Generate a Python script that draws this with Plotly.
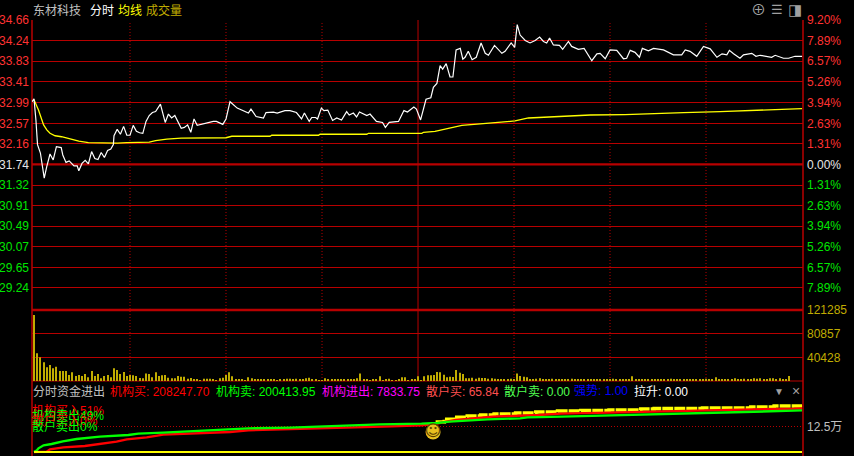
import plotly.graph_objects as go

PREV_CLOSE = 31.74
price_min = [-0.6,0,0.6,1.1,2,2.5,3.2,4,5,6,7,8.5,9,10,11,12.5,13.5,14,15,16,17,18,19,20,21,22,23,24,24.8,25,26,27,28,29,30,31,32,33,34,35,36,37,38,39.5,40.5,41,42,43,44,46,47,48,49,50,51,53,55,56,57,59,60,61.25,63.5,67,67.8,69.4,71.7,72.5,74.8,76,78.4,80,82,83.6,84.5,86,86.8,88,88.6,89.8,90.6,91.8,93.3,94.6,96.1,97.7,98.5,99.8,100.8,101.7,104,105,107,108.9,109.8,111,113.9,115.6,116.7,118.7,119.5,120.8,122.5,124,124.8,125.9,126.9,127.7,128.8,130,130.9,131.9,133.2,134,134.7,135.7,136.9,138.2,139.7,141,142,143.9,146.2,147.2,149.1,150.2,151,151.9,153.5,155,156.6,158,159.2,160.2,161.1,162.3,164.2,165.2,167,168,170.1,171.9,174.3,175.9,176.9,178.5,180,182.1,184.2,185.2,186.3,187.8,189.2,190.1,192,193.6,196.7,199.8,202.4,203.5,205,207.1,209.2,211.3,213.4,215,216.5,217.3,218.6,220.6,221.7,224.3,225.6,226.9,230.5,231.6,234.2,235.8,237.8,240]
price = [33.01,33.07,32.64,32.14,31.97,31.73,31.46,31.70,31.95,31.83,32.10,32.08,31.93,31.78,31.81,31.71,31.71,31.61,31.76,31.82,31.75,32.00,31.86,31.84,31.98,31.88,32.02,32.05,32.14,32.32,32.45,32.35,32.51,32.33,32.33,32.53,32.41,32.38,32.37,32.61,32.73,32.79,32.81,32.96,32.71,32.59,32.76,32.68,32.73,32.47,32.49,32.54,32.39,32.66,32.53,32.56,32.60,32.61,32.61,32.55,32.66,33.01,32.88,32.78,32.86,32.71,32.68,32.79,32.80,32.78,32.83,32.83,32.79,32.66,32.78,32.61,32.69,32.69,32.66,32.88,32.83,32.84,32.63,32.68,32.64,32.81,32.74,32.78,32.70,32.80,32.73,32.76,32.61,32.59,32.49,32.59,32.61,32.83,32.80,32.90,32.86,32.64,33.06,33.09,33.30,33.38,33.74,33.67,33.78,33.51,33.51,34.06,34.09,33.87,33.91,34.03,33.86,33.91,34.20,33.99,33.95,34.15,33.99,34.03,34.20,34.11,34.57,34.36,34.25,34.20,34.25,34.32,34.23,34.20,34.30,34.16,34.15,34.07,34.23,34.13,34.07,34.09,33.84,33.98,33.99,33.88,34.06,34.05,33.88,33.89,34.05,34.01,33.91,34.09,34.04,34.09,34.06,33.96,33.96,34.06,34.03,33.93,34.13,34.08,33.91,33.98,33.96,34.05,33.98,33.89,33.96,33.99,33.93,33.95,33.91,33.95,33.89,33.89,33.93,33.93]

avg_min = [0,1.4,3,4,5,6.6,8.6,11,14,17,22.7,26,29,36,38,41.5,46,60,61.8,73.75,74.3,88.9,89.4,104,104.5,121.2,121.7,125.3,129.5,133.7,139.4,150.3,154.5,165.4,173.8,184.7,191.5,203,214.4,224.8,233.2,240]
avg_price = [33.05,32.84,32.54,32.44,32.37,32.32,32.30,32.26,32.21,32.18,32.17,32.17,32.18,32.19,32.22,32.25,32.27,32.28,32.31,32.31,32.33,32.33,32.35,32.35,32.37,32.37,32.39,32.41,32.47,32.53,32.56,32.62,32.68,32.71,32.74,32.75,32.76,32.79,32.81,32.84,32.86,32.87]

volume = [112700,47200,40400,31900,23300,27300,21600,24500,17000,17000,17000,10200,14800,8500,10200,8500,12000,6300,17000,8500,12000,4500,8500,10200,6300,21600,18800,12000,15400,8500,10200,9700,8500,5100,4500,13000,12000,6300,14800,8500,9700,10200,5700,4500,4500,8500,7400,7400,4000,5100,3400,2800,1700,4000,4000,4000,2800,1000,4500,5700,10200,14800,8000,3000,2000,3400,1200,6300,4500,3400,3400,2800,3400,3400,2000,2800,1200,2400,3000,4000,4000,3000,4000,3400,3400,4500,5700,2800,3400,1700,1700,4500,2800,2800,2400,2000,2800,2000,3000,2000,3400,4500,13000,2800,2000,1200,3000,2000,8000,1700,3000,4000,1500,1700,2000,6300,6300,1000,2800,2800,8000,1500,8000,9700,9700,10200,15400,14800,10800,6300,7400,6800,18800,14200,12000,4500,4500,5700,4000,5700,5100,5100,4000,4500,4000,3400,2800,2800,2800,4000,3000,13000,8500,7400,6300,2800,3400,4000,4500,2800,3400,2400,4000,3000,2000,3400,2400,3000,4000,2400,3400,2000,3400,2800,3400,2000,2800,3400,2000,3000,2000,4000,2000,3400,2400,3000,2400,8000,2400,3000,2000,3400,2800,2000,3400,2400,2800,2000,3000,4000,2400,3000,2000,3000,2800,2000,3400,2400,3000,2000,4000,2800,2000,6500,2800,2000,3400,2400,3000,4500,2400,2800,4000,2000,3000,4500,4000,4500,3400,2000,4500,4500,2400,4500,2000,2000,8500]

sell_min = [0,0.8,1.4,3,5.5,9,13.3,20.6,29.5,32.6,40.4,49.3,62.3,67,80,87.8,100.8,108.1,121.1,126,129.9,133.9,141.7,151.9,154.2,164.9,178.1,191.2,207.3,220.3,233.4,237.5,240]
sell_flow = [0,6536,17974,32680,39216,52288,63726,75164,83334,89870,94772,101308,109478,116014,119282,124184,129086,135622,138890,142158,148694,153596,160132,165034,169936,173204,178106,183008,187910,192812,197714,202616,204250]
buy_min = [0,3.96,5,9.2,15.9,21.1,25.8,29,35.2,40.4,47.7,56.6,61.3,67,80,87.8,97.7,104.5,111.8,121.1,125,131.8,139.1,143.3,157.8,164.6,179.7,190.7,210.4,224.5,237.5,240]
buy_flow = [0,1634,13072,22876,29412,39216,50654,62092,71896,84968,89870,93138,98040,106210,111112,114380,117648,122550,125818,130720,137256,156864,168302,173204,181374,187910,192812,197714,204250,209152,212420,214054]
top_min = [125.5,128.2,131.3,135.4,139.6,143.8,150.5,156.8,163.6,170.9,179.7,189.6,193.8,208.9,224,231.3,240]
top_flow = [147060,160132,169936,176472,181374,186276,191178,196080,200982,202616,205884,210786,212420,215688,220590,225492,225492]
base_min = [0,240]
base_flow = [0,0]
smile_min = [124.7]
smile_flow = [98000]

price_ticks = [34.66,34.24,33.83,33.41,32.99,32.57,32.16,31.74,31.32,30.91,30.49,30.07,29.65,29.24]
pct_ticks = ["9.20%","7.89%","6.57%","5.26%","3.94%","2.63%","1.31%","0.00%","1.31%","2.63%","3.94%","5.26%","6.57%","7.89%"]
vol_ticks = [40428,80857,121285]
flow_ticks = [125000]
flow_labels = ["12.5万"]
half_hours = [30,60,90,150,180,210]

GRID = "#b80000"
FONT = "Liberation Sans, Noto Sans CJK SC, sans-serif"
UP, DOWN, FLAT = "#ff3232", "#00e600", "#e6e6e6"
VOL = "#c0ac00"

def tint(p):
    return UP if p > PREV_CLOSE else DOWN if p < PREV_CLOSE else FLAT
def span(t, c):
    return f'<span style="color:{c}">{t}</span>'

fig = go.Figure()
fig.add_scatter(x=avg_min, y=avg_price, yaxis="y", mode="lines", line=dict(color="#ffff00", width=1.3))
fig.add_scatter(x=price_min, y=price, yaxis="y", mode="lines", line=dict(color="#ffffff", width=1.2))
fig.add_scatter(x=[0], y=[price_ticks[0]], yaxis="y4", mode="markers", marker=dict(opacity=0), hoverinfo="skip")
fig.add_bar(x=list(range(len(volume))), y=volume, yaxis="y2", width=0.28, marker=dict(color=VOL, line=dict(width=0)))
fig.add_scatter(x=top_min, y=top_flow, yaxis="y3", mode="lines", line=dict(color="#ffff00", width=3.6, dash="11px,1px", shape="hv"))
fig.add_scatter(x=buy_min, y=buy_flow, yaxis="y3", mode="lines", line=dict(color="#ff0000", width=2.4))
fig.add_scatter(x=sell_min, y=sell_flow, yaxis="y3", mode="lines", line=dict(color="#00ff00", width=2.4))
fig.add_scatter(x=base_min, y=base_flow, yaxis="y3", mode="lines", line=dict(color="#ffff00", width=2))
fig.add_scatter(x=smile_min, y=smile_flow, yaxis="y3", mode="markers+text", text=["☺"], textposition="middle center",
                marker=dict(color="#e8c020", size=15), textfont=dict(color="#5a4000", size=16, family="DejaVu Sans"), cliponaxis=False)

def px_x(p): return (p - 32) / 771
def px_y(p): return (456 - p) / 436
D1, D2, D3 = [px_y(310), 1], [px_y(381), px_y(310)], [0, px_y(381)]

y_common = dict(showline=False, zeroline=False, ticks="", fixedrange=True, automargin=False)
tf = dict(family=FONT, size=12)
fig.update_layout(
    width=854, height=456, autosize=False, showlegend=False,
    margin=dict(l=32, r=51, t=20, b=0),
    paper_bgcolor="#000000", plot_bgcolor="#000000",
    xaxis=dict(range=[-0.625, 240.3], visible=False, fixedrange=True, automargin=False),
    yaxis=dict(domain=D1, range=[28.79, 34.665], tickmode="array", tickvals=price_ticks,
               ticktext=[span(f"{p:.2f}", tint(p)) for p in price_ticks], tickfont=tf,
               showgrid=True, gridcolor=GRID, gridwidth=1.4, ticklabelstandoff=2, **y_common),
    yaxis4=dict(domain=D1, range=[28.79, 34.665], overlaying="y", side="right", anchor="x", tickmode="array",
                tickvals=price_ticks, ticktext=[span(t, tint(p)) for t, p in zip(pct_ticks, price_ticks)],
                showgrid=False, ticklabelstandoff=3, tickfont=tf, **y_common),
    yaxis2=dict(domain=D2, range=[0, 121285], side="right", anchor="x", tickmode="array", tickvals=vol_ticks,
                ticktext=[span(str(v), VOL) for v in vol_ticks], showgrid=True, gridcolor=GRID, gridwidth=1.2,
                ticklabelstandoff=3, tickfont=tf, **y_common),
    yaxis3=dict(domain=D3, range=[-19608, 348042], side="right", anchor="x", tickmode="array", tickvals=flow_ticks,
                ticktext=[span(t, "#c0c0c0") for t in flow_labels], showgrid=True, gridcolor=GRID, griddash="1px,2px",
                gridwidth=1, ticklabelstandoff=3, tickfont=tf, **y_common),
)

shapes = []
for m in half_hours:
    shapes.append(dict(type="line", xref="x", yref="paper", x0=m, x1=m, y0=D2[0], y1=0.993, layer="below",
                       line=dict(color=GRID, width=1, dash="1px,2px")))
shapes.append(dict(type="line", xref="x", yref="paper", x0=120, x1=120, y0=D2[0], y1=1, layer="below", line=dict(color=GRID, width=1)))
shapes.append(dict(type="line", xref="paper", yref="paper", x0=0, x1=0, y0=0, y1=1, layer="below", line=dict(color=GRID, width=1.5)))
shapes.append(dict(type="line", xref="paper", yref="paper", x0=1, x1=1, y0=0, y1=1, layer="below", line=dict(color=GRID, width=1.5)))
shapes.append(dict(type="line", xref="paper", yref="y", x0=0, x1=1, y0=PREV_CLOSE, y1=PREV_CLOSE, layer="below", line=dict(color=GRID, width=2.2)))
shapes.append(dict(type="line", xref="paper", yref="paper", x0=0, x1=1, y0=D1[0], y1=D1[0], layer="below", line=dict(color=GRID, width=2.5)))
shapes.append(dict(type="line", xref="paper", yref="paper", x0=0, x1=1, y0=D2[0], y1=D2[0], layer="below", line=dict(color=GRID, width=1)))
fig.update_layout(shapes=shapes)

def label(text, x, y, color, size=12):
    fig.add_annotation(text=text, xref="paper", yref="paper", x=px_x(x), y=px_y(y), xanchor="left", yanchor="middle",
                       showarrow=False, align="left", borderpad=0, font=dict(family=FONT, size=size, color=color))

label("东材科技", 32, 11, "#c0c0c0")
label("分时", 89, 11, "#ffffff")
label("均线", 117, 11, "#ffff00")
label("成交量", 145, 11, VOL)
label("分时资金进出", 32, 391, "#c0c0c0")
label("机构买: 208247.70", 109, 391, "#ff0000")
label("机构卖: 200413.95", 215, 391, "#00ff00")
label("机构进出: 7833.75", 321, 391, "#ff00ff")
label("散户买: 65.84", 425, 391, "#ff5050")
label("散户卖: 0.00", 503, 391, "#50ff50")
label("强势: 1.00", 573, 391, "#0000ff")
label("拉升: 0.00", 633, 391, "#ffffff")
label("机构买入51%", 31, 410, "#ff0000")
label("机构卖出49%", 31, 415, "#00ff00")
label("散户买入0%", 31, 420, "#ff0000")
label("散户卖出0%", 31, 426, "#00ff00")
label("▼", 773, 391, "#a0a0a0", 10)
label("×", 791, 391, "#a0a0a0", 14)
label("⊕", 750, 9, "#a0a0a0", 15)
label("☰", 770, 9, "#a0a0a0", 13)
label("◨", 787, 9, "#a0a0a0", 15)

fig.write_html("out.html", config=dict(displayModeBar=False),
               post_script="document.body.style.margin='0';document.body.style.background='#000';")
